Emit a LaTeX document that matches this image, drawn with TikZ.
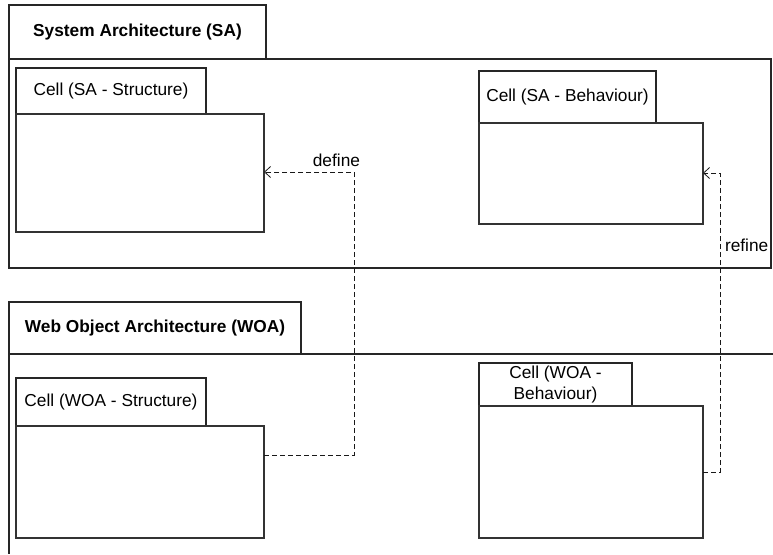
\documentclass[tikz,border=0pt]{standalone}
\usepackage{fontspec}
\setmainfont{Liberation Sans}
\usetikzlibrary{arrows.meta}
\begin{document}
\begin{tikzpicture}[x=1pt,y=-1pt,
  every node/.style={inner sep=0pt,outer sep=0pt,font=\fontsize{17.3}{21}\selectfont},
  frametab/.style={draw=black!85,line width=1.4pt,anchor=north west,font=\fontsize{17.3}{21}\selectfont\bfseries},
  frameline/.style={draw=black!85,line width=1.4pt},
  celltab/.style={draw=black!85,line width=1.1pt,anchor=north west,align=center},
  cellbody/.style={draw=black!80,line width=1.1pt,anchor=north west},
  dep/.style={draw=black!90,line width=1pt,dash pattern=on 5pt off 3pt,
    -{Straight Barb[length=6pt,width=11pt,line width=0.8pt]}},
  deplabel/.style={font=\fontsize{17.3}{21}\selectfont}]
\useasboundingbox (0,0) rectangle (773,554);

% System Architecture frame
\node[frametab,minimum width=257pt,minimum height=54pt] (satab) at (9,5) {System Architecture (SA)};
\node[frameline,anchor=north west,minimum width=762pt,minimum height=209pt] (saframe) at (9,59) {};

% SA cells
\node[celltab,minimum width=190pt,minimum height=46pt] (sastab) at (16,68) {Cell (SA - Structure)};
\node[cellbody,minimum width=248pt,minimum height=118pt] (sasb) at (16,114) {};
\node[celltab,minimum width=177pt,minimum height=52pt] (sabtab) at (479,71) {Cell (SA - Behaviour)};
\node[cellbody,minimum width=224pt,minimum height=101pt] (sabb) at (479,123) {};

% Web Object Architecture frame (open at right and bottom)
\node[frametab,minimum width=292pt,minimum height=52pt] (woatab) at (9,302) {Web Object Architecture (WOA)};
\coordinate (woatr) at (773,354);
\coordinate (woabl) at (9,554);
\draw[frameline] (woatr) -- (woatab.south east) (woatab.south west) -- (woabl);

% WOA cells
\node[celltab,minimum width=190pt,minimum height=48pt] (woastab) at (16,378) {Cell (WOA - Structure)};
\node[cellbody,minimum width=248pt,minimum height=112pt] (woasb) at (16,426) {};
\node[celltab,minimum width=153pt,minimum height=43pt] (woabtab) at (479,363) {Cell (WOA -\\Behaviour)};
\node[cellbody,minimum width=224pt,minimum height=132pt] (woabb) at (479,406) {};

% define dependency
\coordinate (dlow) at (354,455);
\coordinate (dhigh) at (354,172);
\draw[dep] (woasb.east |- dlow) -- (dlow) -- (dhigh) -- (sasb.east |- dhigh);
\node[deplabel,anchor=east] (deflabel) at (360,160) {define};

% refine dependency
\coordinate (rlow) at (720,472);
\coordinate (rhigh) at (720,173);
\draw[dep] (woabb.east |- rlow) -- (rlow) -- (rhigh) -- (sabb.east |- rhigh);
\node[deplabel,anchor=west] (reflabel) at (725,245) {refine};
\end{tikzpicture}
\end{document}
